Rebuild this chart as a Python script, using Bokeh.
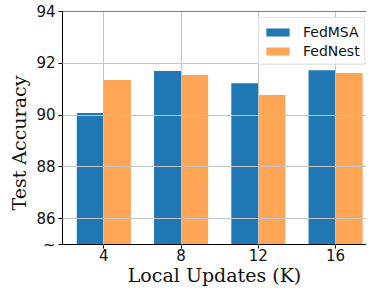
from bokeh.plotting import figure
from bokeh.models import (ColumnDataSource, Range1d, FixedTicker, Span, Title,
                          Legend, LegendItem)
from bokeh.transform import dodge
from bokeh.embed import file_html
from bokeh.resources import INLINE

# ---- data ----
local_updates = ["4", "8", "12", "16"]
fedmsa = [90.08, 91.70, 91.23, 91.73]
fednest = [91.35, 91.55, 90.77, 91.62]
y_ticks = [85, 86, 88, 90, 92, 94]
y_tick_labels = ["~", "86", "88", "90", "92", "94"]
x_title = "Local Updates (K)"
y_title = "Test Accuracy"

TXT = "#111111"
lab_font = "DejaVu Serif"
lab_size = "19px"

idx = list(range(len(local_updates)))
src = ColumnDataSource(dict(x=idx, fedmsa=fedmsa, fednest=fednest))

p = figure(width=366, height=288, output_backend="svg", toolbar_location=None,
           title=None,
           x_range=Range1d(-0.535, 3.40), y_range=Range1d(85, 94),
           min_border_left=62, min_border_right=0, min_border_top=11,
           min_border_bottom=44)
p.outline_line_color = None

r1 = p.vbar(x=dodge("x", -0.175, range=p.x_range), top="fedmsa", bottom=80,
            width=0.35, source=src, fill_color="#1f77b4", line_color=None)
r2 = p.vbar(x=dodge("x", 0.175, range=p.x_range), top="fednest", bottom=80,
            width=0.35, source=src, fill_color="#ffa556", line_color=None)

p.xaxis.ticker = FixedTicker(ticks=idx)
p.xaxis.major_label_overrides = {i: s for i, s in zip(idx, local_updates)}
p.yaxis.ticker = FixedTicker(ticks=y_ticks)
p.yaxis.major_label_overrides = {t: s for t, s in zip(y_ticks, y_tick_labels)}
for ax in (p.xaxis, p.yaxis):
    ax.axis_line_color = "black"
    ax.axis_line_width = 1
    ax.major_tick_line_color = "black"
    ax.major_tick_out = 4
    ax.major_tick_in = 0
    ax.minor_tick_line_color = None
    ax.major_label_text_font = "DejaVu Sans"
    ax.major_label_text_font_size = "15px"
    ax.major_label_text_color = TXT
p.xaxis.major_label_standoff = 0
p.yaxis.major_label_standoff = 3

p.xaxis.axis_label = x_title
p.xaxis.axis_label_text_font = lab_font
p.xaxis.axis_label_text_font_size = lab_size
p.xaxis.axis_label_text_font_style = "normal"
p.xaxis.axis_label_text_color = TXT
p.xaxis.axis_label_standoff = 0

# y title placed left of the axis, a little below the frame centre like the reference
p.add_layout(Title(text=y_title, align="left", offset=34, standoff=8,
                   text_font=lab_font, text_font_size=lab_size,
                   text_font_style="normal", text_color=TXT), "left")

# grid drawn over the bars
p.xgrid.ticker = FixedTicker(ticks=idx)
p.ygrid.ticker = FixedTicker(ticks=y_ticks[1:])
p.grid.grid_line_color = "#c4c4c4"
p.grid.grid_line_width = 1
p.grid.level = "guide"

# top spine
p.add_layout(Span(location=94, dimension="width", line_color="black", line_width=1))

legend = Legend(items=[LegendItem(label="FedMSA", renderers=[r1]),
                       LegendItem(label="FedNest", renderers=[r2])],
                location=(196, 179), padding=4, spacing=0,
                glyph_width=29, glyph_height=10, label_height=19, label_standoff=11,
                label_text_font="DejaVu Sans", label_text_font_size="14px",
                label_text_color=TXT,
                border_line_color="#cccccc", border_line_width=1,
                background_fill_color="white", background_fill_alpha=0.8)
p.add_layout(legend)

open("out.html", "w").write(file_html(p, INLINE))
